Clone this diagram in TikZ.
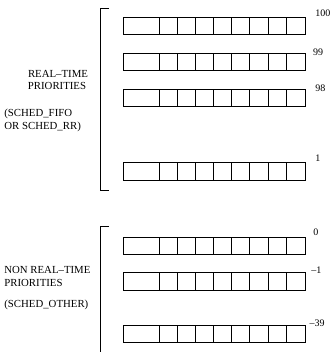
\documentclass[tikz,border=0pt]{standalone}
\usepackage{fontspec}
\setmainfont{Liberation Serif}
\begin{document}
\begin{tikzpicture}[x=1pt,y=-1pt,
  line width=0.7pt,
  queue/.style={draw, rectangle, anchor=north west, minimum width=182pt, minimum height=17.3pt, inner sep=0pt, outer sep=0pt},
  lbl/.style={font=\fontsize{10.8pt}{12pt}\selectfont, inner sep=0pt},
  num/.style={font=\fontsize{10pt}{12pt}\selectfont, inner sep=0pt, anchor=base west}]
\useasboundingbox (0,0) rectangle (331,352);
% queues
\foreach \nm/\y in {q100/17.3, q99/53.3, q98/89.5, q1/162.7, q0/237, qm1/272.7, qm39/325.5}{
  \node[queue] (\nm) at (123,\y) {};
  \foreach \k in {0,...,7}{
    \draw ([xshift={36.3pt+\k*18.1pt}]\nm.north west) -- ([xshift={36.3pt+\k*18.1pt}]\nm.south west);
  }
}
% priority numbers
\node[num] (n100) at (315,16.7) {100};
\node[num] (n99) at (312.7,55.1) {99};
\node[num] (n98) at (315,91.7) {98};
\node[num] (n1) at (315,161.7) {1};
\node[num] (n0) at (313,235.1) {0};
\node[num] (nm1) at (311,273.4) {–1};
\node[num] (nm39) at (309.3,326.7) {–39};
% brackets
\coordinate (b1t) at (109,8);
\coordinate (b1b) at (109,190);
\draw (b1t) -- (100,8) -- (100,190) -- (b1b);
\coordinate (b2t) at (109,226.7);
\coordinate (b2b) at (100,354);
\draw (b2t) -- (100,226.7) -- (b2b);
% left labels
\node[lbl, anchor=base] (rt1) at (58,77.6) {REAL–TIME};
\node[lbl, anchor=base] (rt2) at (57,89.6) {PRIORITIES};
\node[lbl, anchor=base west] (rt3) at (4,116.9) {(SCHED\_FIFO};
\node[lbl, anchor=base west] (rt4) at (4,129.6) {OR SCHED\_RR)};
\node[lbl, anchor=base west] (nr1) at (4,273.6) {NON REAL–TIME};
\node[lbl, anchor=base west] (nr2) at (4,286.3) {PRIORITIES};
\node[lbl, anchor=base west] (nr3) at (4,307.9) {(SCHED\_OTHER)};
\end{tikzpicture}
\end{document}
